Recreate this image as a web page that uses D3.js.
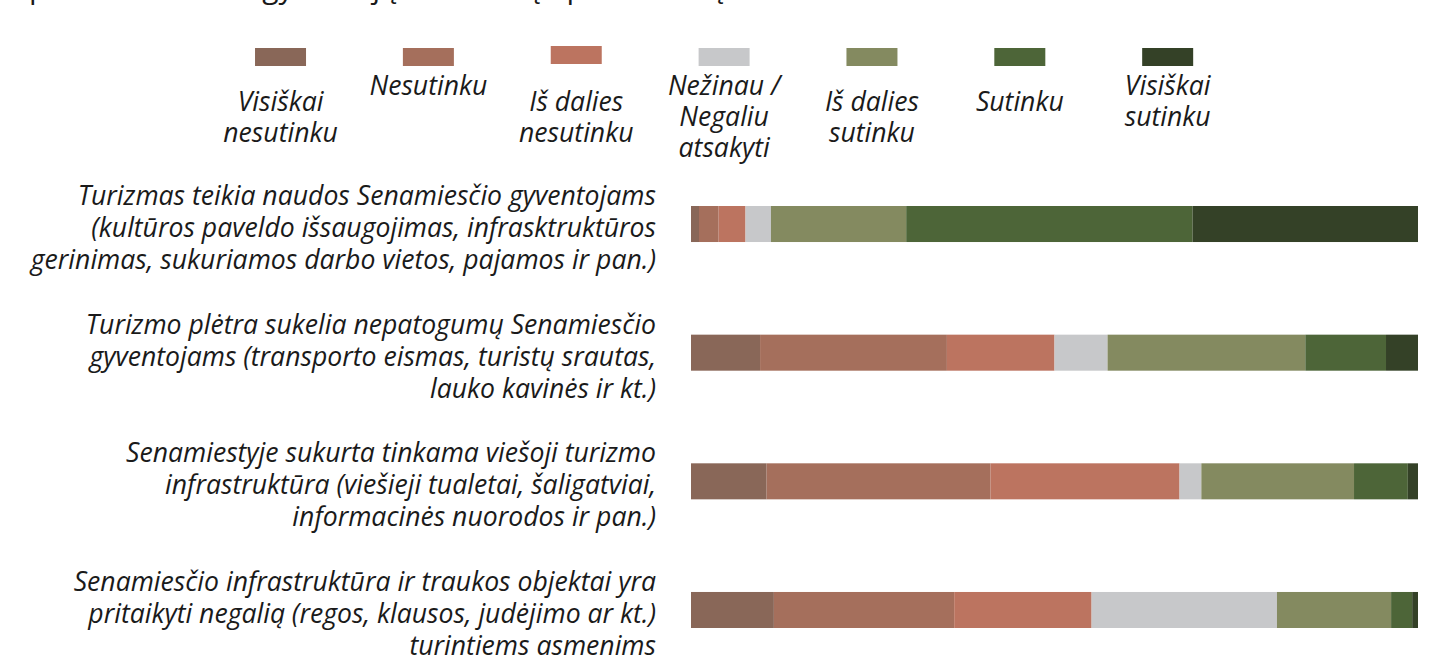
<!DOCTYPE html>
<html>
<head>
<meta charset="utf-8">
<script src="https://cdn.jsdelivr.net/npm/d3@7"></script>
<style>
  html, body { margin: 0; padding: 0; background: #fff; }
  svg text { font-family: "Open Sans", sans-serif; fill: #1a1a1a; }
</style>
</head>
<body>
<svg id="chart" width="1437" height="656"></svg>
<script>
// answer categories (legend order = stack order)
var categories = [
  "Visiškai nesutinku", "Nesutinku", "Iš dalies nesutinku",
  "Nežinau / Negaliu atsakyti", "Iš dalies sutinku", "Sutinku", "Visiškai sutinku"
];
// legend label lines, as broken in the picture
var legendLines = [
  ["Visiškai", "nesutinku"],
  ["Nesutinku"],
  ["Iš dalies", "nesutinku"],
  ["Nežinau /", "Negaliu", "atsakyti"],
  ["Iš dalies", "sutinku"],
  ["Sutinku"],
  ["Visiškai", "sutinku"]
];
var colors = ["#896758", "#a56f5c", "#bc7460", "#c7c8ca", "#848a60", "#4d6538", "#344127"];

// statements, broken into lines
var statements = [
  ["Turizmas teikia naudos Senamiesčio gyventojams",
   "(kultūros paveldo išsaugojimas, infrasktruktūros",
   "gerinimas, sukuriamos darbo vietos, pajamos ir pan.)"],
  ["Turizmo plėtra sukelia nepatogumų Senamiesčio",
   "gyventojams (transporto eismas, turistų srautas,",
   "lauko kavinės ir kt.)"],
  ["Senamiestyje sukurta tinkama viešoji turizmo",
   "infrastruktūra (viešieji tualetai, šaligatviai,",
   "informacinės nuorodos ir pan.)"],
  ["Senamiesčio infrastruktūra ir traukos objektai yra",
   "pritaikyti negalią (regos, klausos, judėjimo ar kt.)",
   "turintiems asmenims"]
];

// shares in %, one array per statement, in category order
var vals1 = [1.1, 2.7, 3.7, 3.5, 18.6, 39.4, 31.0];
var vals2 = [9.5, 25.7, 14.8, 7.3, 27.2, 11.1, 4.4];
var vals3 = [10.4, 30.8, 26.0, 3.0, 21.0, 7.4, 1.4];
var vals4 = [11.4, 24.8, 18.9, 25.5, 15.7, 2.9, 0.8];
var values = [vals1, vals2, vals3, vals4];

var title = "Apie Senamiesčio gyventojų nuomonę apie turizmą";

var svg = d3.select("#chart");

// rows
var ids = statements.map(function (d, i) { return "s" + i; });
var rows = ids.map(function (id, i) {
  var o = { id: id };
  categories.forEach(function (c, j) { o[c] = values[i][j]; });
  return o;
});
var series = d3.stack().keys(categories)(rows);

var x = d3.scaleLinear().domain([0, 100]).range([691, 1418]);
var y = d3.scaleBand().domain(ids).range([206, 628]).paddingInner(0.72).paddingOuter(0);
var color = d3.scaleOrdinal().domain(categories).range(colors);

// title (only its lower part is in view)
svg.append("text")
  .attr("x", 10).attr("y", -2)
  .style("font-size", "30px")
  .text(title);

// bars
svg.append("g").selectAll("g")
  .data(series)
  .join("g")
  .attr("fill", function (d) { return color(d.key); })
  .selectAll("rect")
  .data(function (d) { return d; })
  .join("rect")
  .attr("x", function (d) { return x(d[0]); })
  .attr("width", function (d) { return x(d[1]) - x(d[0]); })
  .attr("y", function (d) { return y(d.data.id); })
  .attr("height", y.bandwidth());

// statement labels
var lineH = 32;
svg.append("g").selectAll("text")
  .data(statements)
  .join("text")
  .attr("text-anchor", "end")
  .style("font-size", "26.6px")
  .style("font-style", "italic")
  .each(function (lines, i) {
    var mid = y(ids[i]) + y.bandwidth() / 2 + 13;
    d3.select(this).selectAll("tspan")
      .data(lines)
      .join("tspan")
      .attr("x", 656)
      .attr("y", function (l, k) { return mid + (k - 1) * lineH; })
      .text(function (l) { return l; });
  });

// legend
var lx = d3.scaleBand().domain(categories).range([206.6, 1241.6]);
var swatchTop = [48, 48, 46, 48, 48, 48, 48];
var labelTop = [111, 95, 111, 95, 111, 111, 95];
var legend = svg.append("g").selectAll("g")
  .data(categories)
  .join("g")
  .attr("transform", function (d) { return "translate(" + (lx(d) + lx.bandwidth() / 2) + ",0)"; });

legend.append("rect")
  .attr("x", -25.5)
  .attr("y", function (d, i) { return swatchTop[i]; })
  .attr("width", 51).attr("height", 18)
  .attr("fill", function (d) { return color(d); });

legend.append("text")
  .attr("text-anchor", "middle")
  .style("font-size", "26.6px")
  .style("font-style", "italic")
  .each(function (d, i) {
    d3.select(this).selectAll("tspan")
      .data(legendLines[i])
      .join("tspan")
      .attr("x", 0)
      .attr("y", function (l, k) { return labelTop[i] + k * 31; })
      .text(function (l) { return l; });
  });
</script>
</body>
</html>
